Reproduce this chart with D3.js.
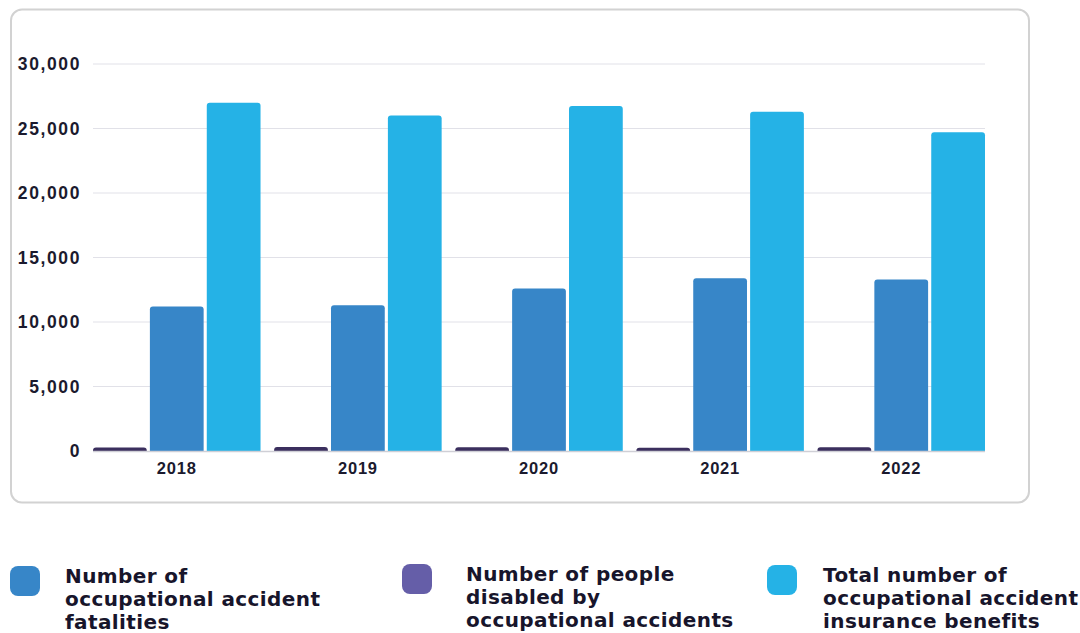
<!DOCTYPE html>
<html>
<head>
<meta charset="utf-8">
<script src="https://cdn.jsdelivr.net/npm/d3@7"></script>
<style>
  body { margin: 0; background: #fff; }
  svg { display: block; font-family: "DejaVu Sans", sans-serif; }
</style>
</head>
<body>
<svg id="chart" width="1080" height="633"></svg>
<script>
// data
const years = ["2018", "2019", "2020", "2021", "2022"];
const disabled = [270, 310, 290, 250, 300];
const fatalities = [11200, 11300, 12600, 13400, 13300];
const insurance = [27000, 26000, 26750, 26300, 24700];
const yTicks = [0, 5000, 10000, 15000, 20000, 25000, 30000];

const seriesKeys = ["disabled", "fatalities", "insurance"];
const barColors = { disabled: "#3b2f5e", fatalities: "#3786c8", insurance: "#25b2e6" };
const legendItems = [
  { key: "fatalities", color: "#3786c8", lines: ["Number of", "occupational accident", "fatalities"], x: 10, y: 566, tx: 55 },
  { key: "disabled", color: "#655ea8", lines: ["Number of people", "disabled by", "occupational accidents"], x: 402, y: 564, tx: 64 },
  { key: "insurance", color: "#25b2e6", lines: ["Total number of", "occupational accident", "insurance benefits"], x: 767, y: 565, tx: 56 }
];

const rows = years.map((y, i) => ({ year: y, disabled: disabled[i], fatalities: fatalities[i], insurance: insurance[i] }));

const svg = d3.select("#chart");

// card
svg.append("rect")
  .attr("x", 11).attr("y", 9.5)
  .attr("width", 1018).attr("height", 493)
  .attr("rx", 11)
  .attr("fill", "#fff")
  .attr("stroke", "#d2d2d2")
  .attr("stroke-width", 2);

const plotLeft = 93, plotRight = 985, plotTop = 64, plotBottom = 451;

const x0 = d3.scaleBand().domain(years).range([plotLeft, plotRight]).paddingInner(0.075).paddingOuter(0);
const x1 = d3.scaleBand().domain(seriesKeys).range([0, x0.bandwidth()]).paddingInner(0.055);
const y = d3.scaleLinear().domain([0, 30000]).range([plotBottom, plotTop]);

// grid
svg.append("g")
  .selectAll("line")
  .data(yTicks.filter(d => d > 0))
  .join("line")
  .attr("x1", plotLeft).attr("x2", plotRight)
  .attr("y1", d => y(d)).attr("y2", d => y(d))
  .attr("stroke", "#e1e1e8")
  .attr("stroke-width", 1);

// y axis labels
const yAxis = svg.append("g")
  .attr("transform", `translate(${plotLeft},0)`)
  .call(d3.axisLeft(y).tickValues(yTicks).tickFormat(d3.format(",")).tickSize(0).tickPadding(12));
yAxis.select(".domain").remove();
yAxis.selectAll("text")
  .attr("font-size", 17.5)
  .attr("font-weight", 700)
  .attr("letter-spacing", 1.6)
  .attr("fill", "#1b1a2e");

// bars, rounded top corners
function topRounded(x, yTop, w, h, r) {
  r = Math.min(r, h, w / 2);
  return `M${x},${yTop + h}V${yTop + r}Q${x},${yTop} ${x + r},${yTop}H${x + w - r}Q${x + w},${yTop} ${x + w},${yTop + r}V${yTop + h}Z`;
}

const groups = svg.append("g")
  .selectAll("g")
  .data(rows)
  .join("g")
  .attr("transform", d => `translate(${x0(d.year)},0)`);

groups.selectAll("path")
  .data(d => seriesKeys.map(k => ({ key: k, value: d[k] })))
  .join("path")
  .attr("fill", d => barColors[d.key])
  .attr("d", d => topRounded(x1(d.key), y(d.value), x1.bandwidth(), y(0) - y(d.value), 3));

// baseline
svg.append("line")
  .attr("x1", plotLeft).attr("x2", plotRight)
  .attr("y1", plotBottom + 0.5).attr("y2", plotBottom + 0.5)
  .attr("stroke", "#cfcfd6")
  .attr("stroke-width", 1.5);

// x axis labels
const xAxis = svg.append("g")
  .attr("transform", `translate(0,${plotBottom})`)
  .call(d3.axisBottom(x0).tickSize(0).tickPadding(11));
xAxis.select(".domain").remove();
xAxis.selectAll("text")
  .attr("font-size", 16.5)
  .attr("font-weight", 700)
  .attr("letter-spacing", 0.8)
  .attr("fill", "#1b1a2e");

// legend
const legend = svg.append("g")
  .selectAll("g")
  .data(legendItems)
  .join("g")
  .attr("transform", d => `translate(${d.x},${d.y})`);

legend.append("rect")
  .attr("width", 30).attr("height", 30)
  .attr("rx", 8)
  .attr("fill", d => d.color);

legend.append("text")
  .attr("y", 17)
  .attr("font-size", 20)
  .attr("font-weight", 700)
  .attr("letter-spacing", 0.4)
  .attr("fill", "#17152b")
  .selectAll("tspan")
  .data(d => d.lines.map(t => ({ t, tx: d.tx })))
  .join("tspan")
  .attr("x", d => d.tx)
  .attr("dy", (d, i) => i === 0 ? 0 : 23)
  .text(d => d.t);
</script>
</body>
</html>
